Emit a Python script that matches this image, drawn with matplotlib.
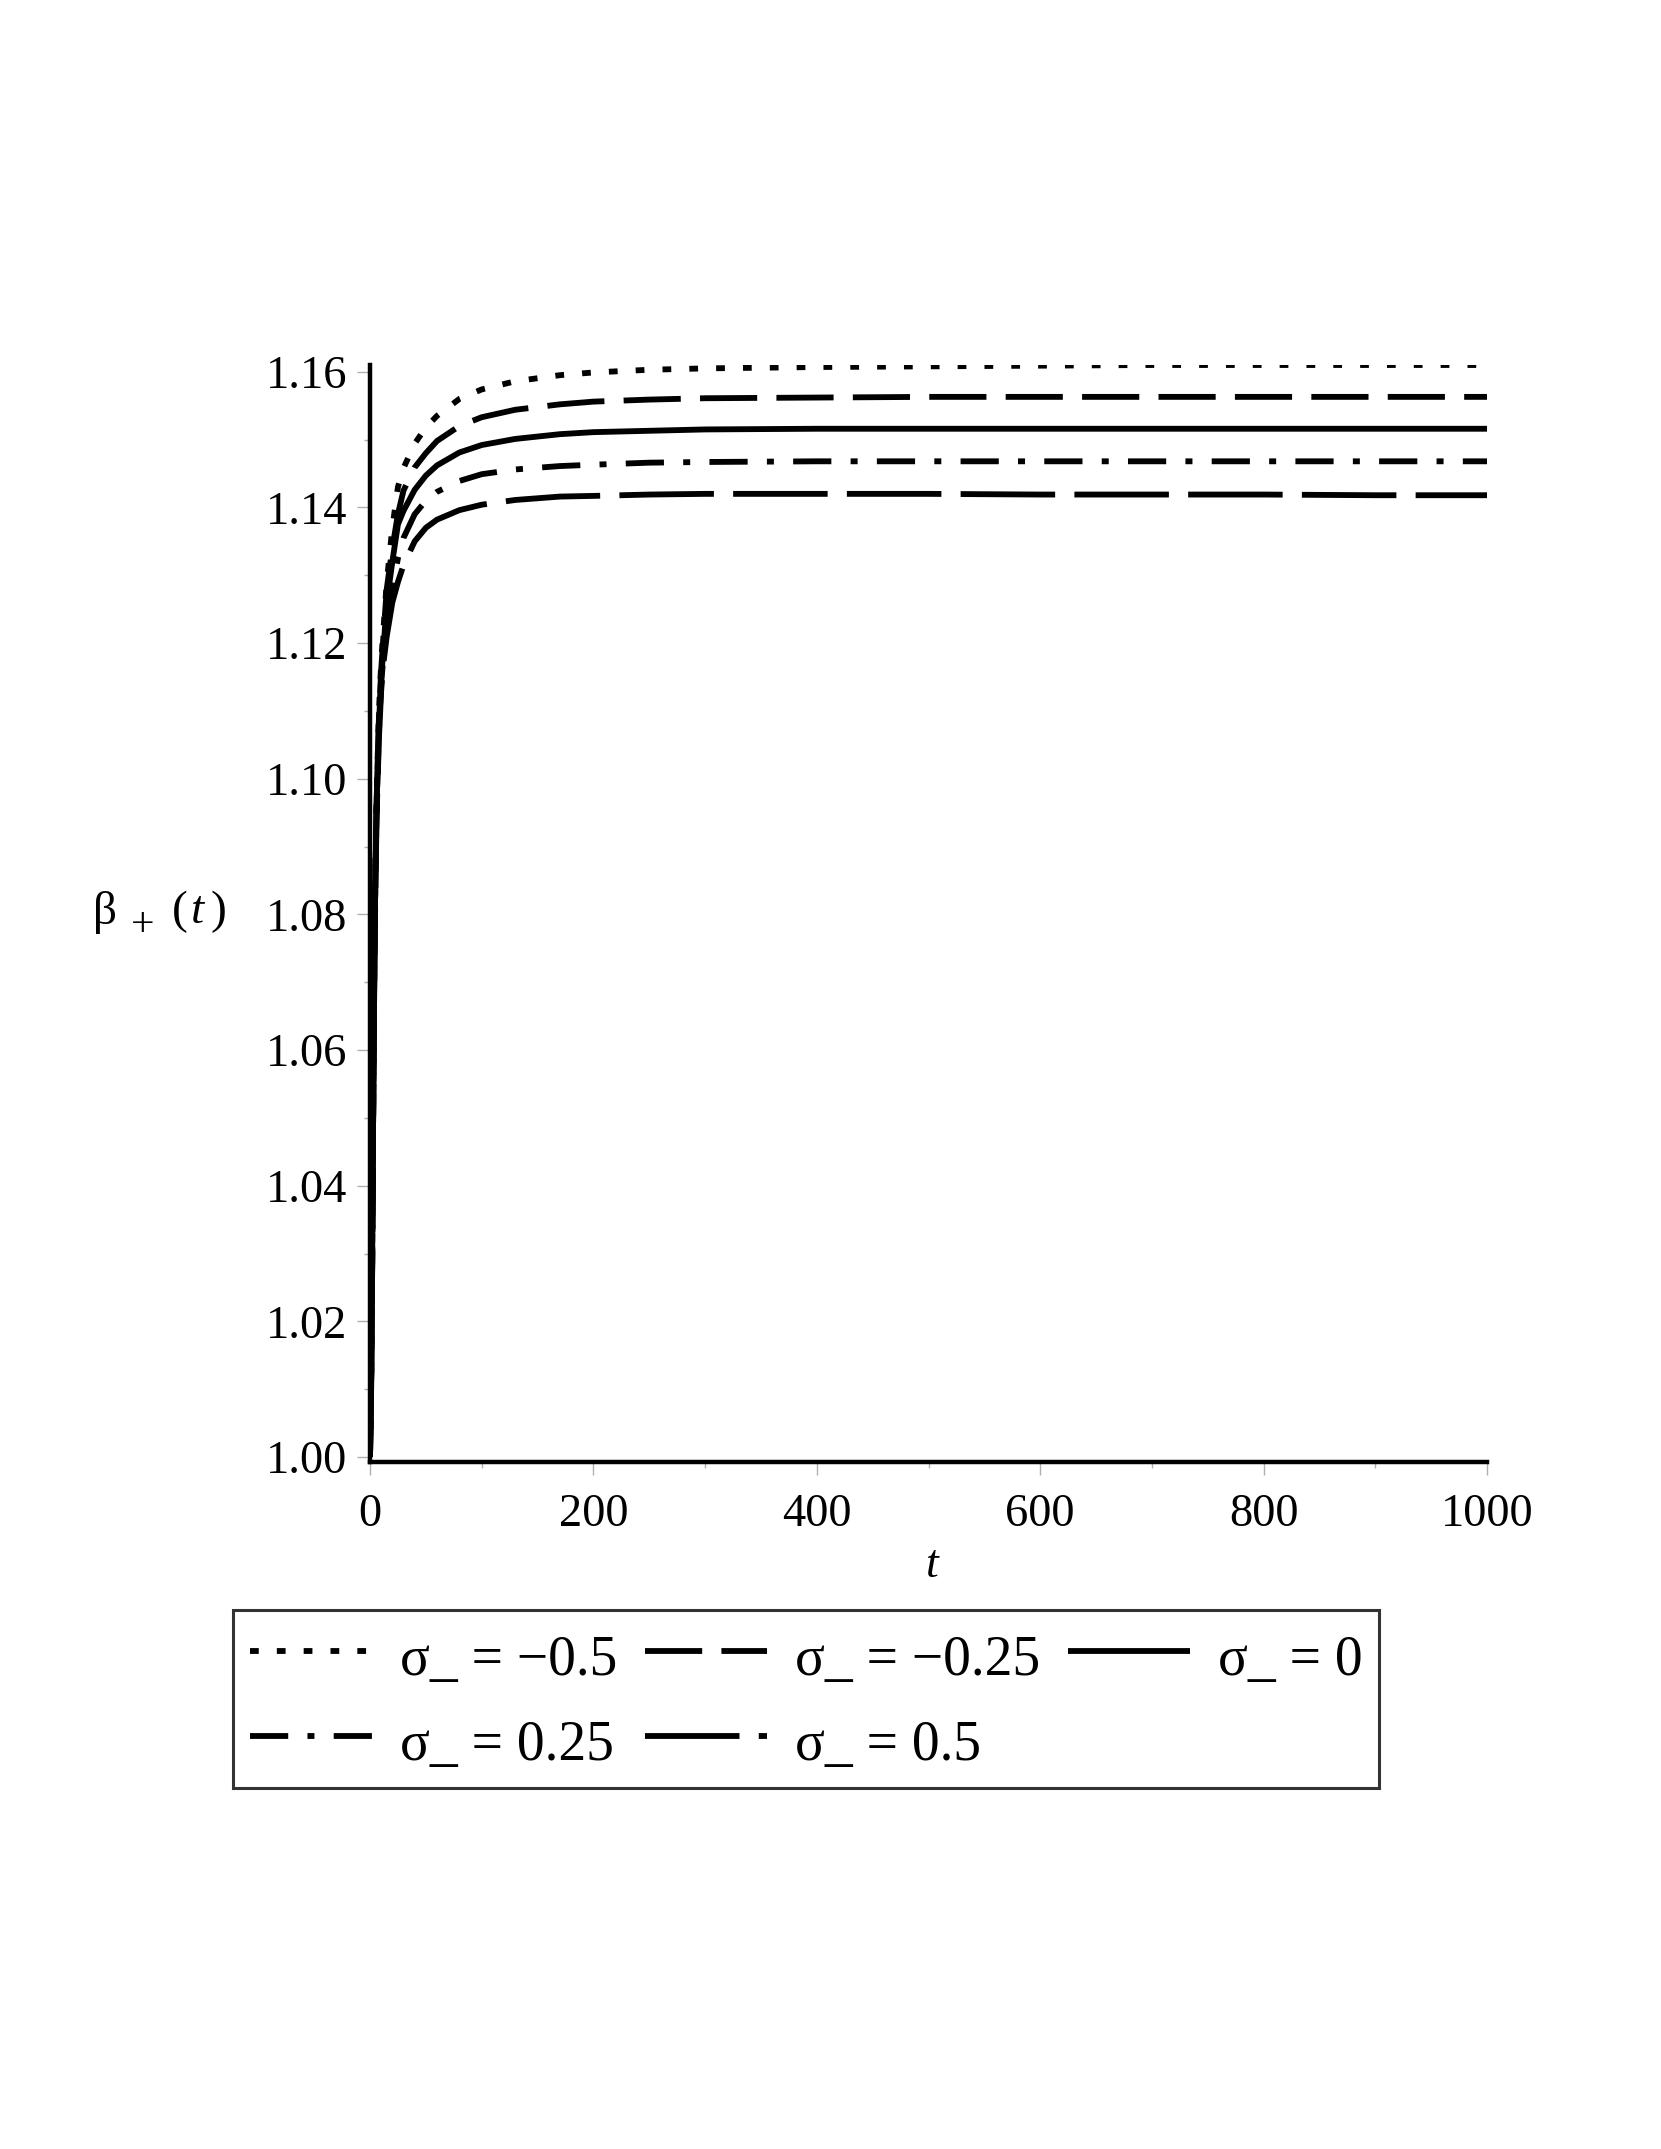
import matplotlib
matplotlib.use("Agg")
import matplotlib.pyplot as plt
from matplotlib.ticker import MultipleLocator

plt.rcParams['font.family'] = ['Liberation Serif', 'DejaVu Serif']

# ---- data ----
t = [0, 1, 2, 3, 4, 5, 6, 8, 10, 12, 15, 20, 25, 30, 40, 50, 60, 80, 100,
     130, 170, 200, 250, 300, 400, 500, 600, 700, 800, 900, 1000]

beta_m050 = [1.000, 1.010, 1.031, 1.056, 1.076, 1.089, 1.098, 1.110, 1.117, 1.122,
             1.129, 1.137, 1.1430, 1.1458, 1.1494, 1.1518, 1.1535, 1.1560, 1.1574,
             1.1586, 1.1595, 1.1599, 1.1603, 1.1605, 1.1607, 1.1608, 1.1609, 1.1610,
             1.1610, 1.1610, 1.1610]
beta_m025 = [1.000, 1.010, 1.030, 1.055, 1.075, 1.088, 1.097, 1.109, 1.116, 1.121,
             1.128, 1.134, 1.1390, 1.1425, 1.1459, 1.1480, 1.1498, 1.1520, 1.1533,
             1.1544, 1.1552, 1.1556, 1.1559, 1.1561, 1.1562, 1.1563, 1.1563, 1.1563,
             1.1563, 1.1563, 1.1563]
beta_000 = [1.000, 1.010, 1.030, 1.055, 1.075, 1.088, 1.097, 1.108, 1.115, 1.119,
            1.126, 1.132, 1.1375, 1.1395, 1.1426, 1.1447, 1.1462, 1.1481, 1.1492,
            1.1501, 1.1508, 1.1511, 1.1513, 1.1515, 1.1516, 1.1516, 1.1516, 1.1516,
            1.1516, 1.1516, 1.1516]
beta_p025 = [1.000, 1.010, 1.029, 1.054, 1.074, 1.087, 1.096, 1.107, 1.114, 1.118,
             1.123, 1.128, 1.1325, 1.1355, 1.1390, 1.1410, 1.1423, 1.1439, 1.1449,
             1.1456, 1.1461, 1.1463, 1.1466, 1.1467, 1.1468, 1.1468, 1.1468, 1.1468,
             1.1468, 1.1468, 1.1468]
beta_p050 = [1.000, 1.010, 1.029, 1.053, 1.073, 1.086, 1.095, 1.106, 1.113, 1.117,
             1.121, 1.126, 1.1290, 1.1315, 1.1350, 1.1370, 1.1382, 1.1396, 1.1404,
             1.1411, 1.1416, 1.1417, 1.1419, 1.1420, 1.1420, 1.1420, 1.1419, 1.1419,
             1.1419, 1.1418, 1.1418]

series = [beta_m050, beta_m025, beta_000, beta_p025, beta_p050]
labels = ["σ_ = −0.5", "σ_ = −0.25", "σ_ = 0", "σ_ = 0.25", "σ_ = 0.5"]
styles = [(0, (1.5, 3.1)),
          (0, (9.8, 3.3)),
          '-',
          (0, (6.55, 3.3, 1.2, 3.3)),
          (0, (16.2, 3.3))]

x_ticks = [0, 200, 400, 600, 800, 1000]
y_ticks = [1.00, 1.02, 1.04, 1.06, 1.08, 1.10, 1.12, 1.14, 1.16]

# ---- figure ----
W, H = 1661, 2149
fig = plt.figure(figsize=(W / 100, H / 100), dpi=100)
ax = fig.add_axes([370 / W, 1 - 1462 / H, (1487 - 370) / W, (1462 - 365) / H])

handles = []
for ys, lab, ls in zip(series, labels, styles):
    h, = ax.plot(t, ys, color='black', lw=4.2, linestyle=ls, label=lab,
                 dash_capstyle='butt', solid_capstyle='butt')
    handles.append(h)

ax.set_xlim(0, 1000)
ax.set_ylim(0.99926, 1.161)
ax.set_xticks(x_ticks)
ax.set_xticklabels([str(v) for v in x_ticks])
ax.set_yticks(y_ticks)
ax.set_yticklabels([f"{v:.2f}" for v in y_ticks])
ax.xaxis.set_minor_locator(MultipleLocator(100))
ax.yaxis.set_minor_locator(MultipleLocator(0.01))

for s in ['top', 'right']:
    ax.spines[s].set_visible(False)
for s in ['left', 'bottom']:
    ax.spines[s].set_linewidth(3.2)
    ax.spines[s].set_color('black')

ax.tick_params(axis='both', which='major', direction='out', length=9.5,
               width=1.0, color='#b0b0b0', labelsize=33.5, labelcolor='black')
ax.tick_params(axis='both', which='minor', direction='out', length=4.5,
               width=1.0, color='#b0b0b0')
ax.tick_params(axis='x', which='major', pad=13)
ax.tick_params(axis='y', which='major', pad=7)

# axis labels
fig.text(932 / W, 1 - 1566 / H, "t", fontsize=33, fontstyle='italic',
         ha='center', va='center')
yl = 1 - 912 / H
fig.text(93 / W, yl, "β", fontsize=34, ha='left', va='center')
fig.text(131 / W, yl - 14 / H, "+", fontsize=30, ha='left', va='center')
fig.text(172 / W, yl, "(", fontsize=34, ha='left', va='center')
fig.text(191 / W, yl, "t", fontsize=34, fontstyle='italic', ha='left', va='center')
fig.text(210 / W, yl, ")", fontsize=34, ha='left', va='center')

order = [0, 3, 1, 4, 2]
leg = fig.legend([handles[i] for i in order], [labels[i] for i in order],
                 ncol=3, loc='upper left', bbox_to_anchor=(233 / W, 1 - 1610 / H),
                 borderaxespad=0, fontsize=40, handlelength=2.2,
                 handleheight=1.25, handletextpad=0.5, columnspacing=0.5,
                 borderpad=0.3, labelspacing=0.45, fancybox=False, frameon=True,
                 edgecolor='black')
leg.get_frame().set_linewidth(2.2)

fig.savefig("out.png", dpi=100)
